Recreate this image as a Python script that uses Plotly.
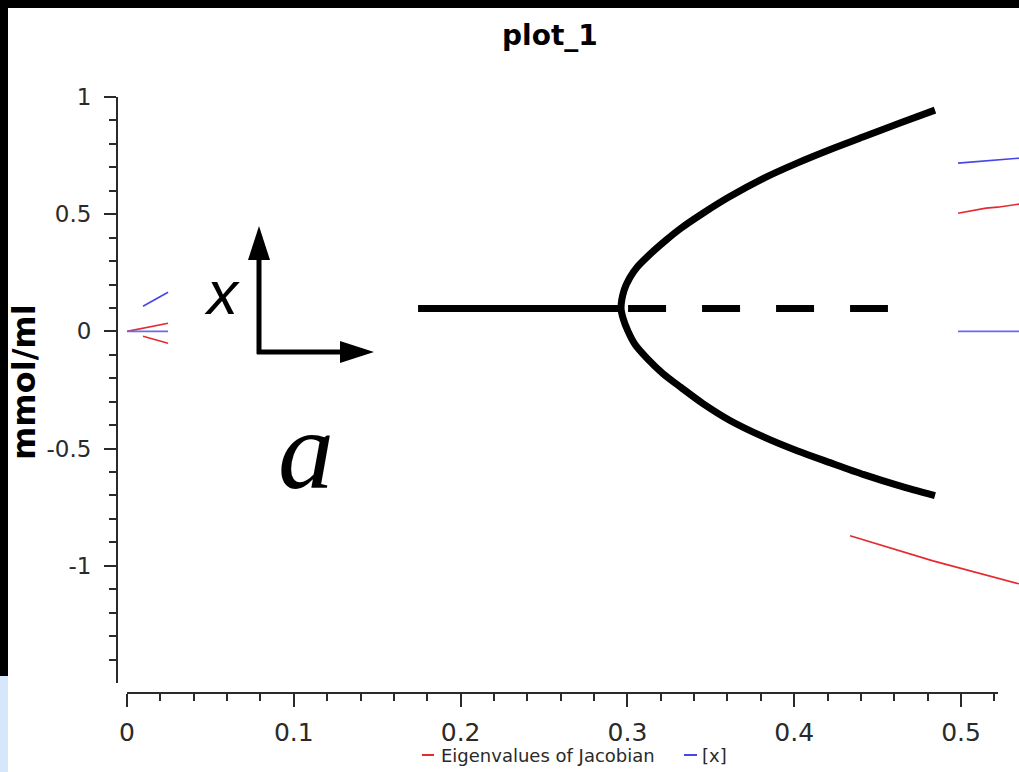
import plotly.graph_objects as go

W, H = 1019, 772

# --- data -----------------------------------------------------------------
# parameter a (x axis) and the computed branches; None separates the
# low-a and high-a pieces of each series
eig_upper_a = [0.0, 0.010, 0.0246, None, 0.4982, 0.5150, 0.5220, 0.5348]
eig_upper_v = [0.0, 0.014, 0.035, None, 0.504, 0.526, 0.530, 0.543]

eig_lower_a = [0.0096, 0.0246, None, 0.4335, 0.4832, 0.5348]
eig_lower_v = [-0.021, -0.051, None, -0.872, -0.979, -1.077]

x_upper_a = [0.0096, 0.0246, None, 0.4982, 0.5348]
x_upper_v = [0.107, 0.167, None, 0.718, 0.739]

x_zero_a = [0.0, 0.0246, None, 0.4982, 0.5348]
x_zero_v = [0.0, 0.0, None, 0.0, 0.0]

# sketched pitchfork: stable branch, unstable branch, and the two new branches
stable_a = [0.1745, 0.2962]
stable_v = [0.098, 0.098]
unstable_a = [0.3004, 0.4562]
unstable_v = [0.098, 0.098]
fork_a = [0.4844, 0.4634, 0.4412, 0.4209, 0.4017, 0.3819, 0.3609, 0.3453,
          0.3321, 0.3231, 0.3141, 0.3058, 0.3016, 0.2980,
          0.2962,
          0.2974, 0.3004, 0.3046, 0.3118, 0.3213, 0.3321, 0.3453, 0.3615,
          0.3813, 0.4017, 0.4215, 0.4418, 0.4628, 0.4844]
fork_v = [0.944, 0.889, 0.829, 0.774, 0.718, 0.654, 0.573, 0.504,
          0.440, 0.389, 0.333, 0.274, 0.231, 0.175,
          0.098,
          0.056, 0.000, -0.056, -0.115, -0.180, -0.239, -0.308, -0.380,
          -0.449, -0.509, -0.560, -0.611, -0.658, -0.701]

y_tick_vals = [-1, -0.5, 0, 0.5, 1]
y_tick_text = ["-1", "-0.5", "0", "0.5", "1"]
x_tick_vals = [0, 0.1, 0.2, 0.3, 0.4, 0.5]
x_tick_text = ["0", "0.1", "0.2", "0.3", "0.4", "0.5"]

RED = "#e42a30"
BLUE = "#4646e6"
INK = "#2a2a2a"


def px(p):
    return p / W


def py(p):
    return 1 - p / H


fig = go.Figure()

for a, v, c in [(eig_upper_a, eig_upper_v, RED), (eig_lower_a, eig_lower_v, RED),
                (x_upper_a, x_upper_v, BLUE), (x_zero_a, x_zero_v, "#6a6af0")]:
    fig.add_trace(go.Scatter(x=a, y=v, mode="lines", line=dict(color=c, width=1.6),
                             showlegend=False, hoverinfo="skip"))

fig.add_trace(go.Scatter(x=stable_a, y=stable_v, mode="lines",
                         line=dict(color="black", width=7), showlegend=False))
fig.add_trace(go.Scatter(x=unstable_a, y=unstable_v, mode="lines",
                         line=dict(color="black", width=7, dash="38px,36px"),
                         showlegend=False))
fig.add_trace(go.Scatter(x=fork_a, y=fork_v, mode="lines",
                         line=dict(color="black", width=7, shape="spline", smoothing=0.8),
                         showlegend=False))

minor_y = [round(-1.4 + 0.1 * i, 2) for i in range(24)]
minor_y = [v for v in minor_y if abs(v * 2 - round(v * 2)) > 1e-9]
minor_x = [round(0.02 * i, 2) for i in range(1, 27)]
minor_x = [v for v in minor_x if abs(v * 10 - round(v * 10)) > 1e-9]

fig.update_layout(
    template="none",
    width=W, height=H,
    margin=dict(l=0, r=0, t=0, b=0, pad=0),
    paper_bgcolor="white", plot_bgcolor="white",
    showlegend=False,
    font=dict(family="DejaVu Sans", color=INK),
    xaxis=dict(
        domain=[px(127), 1.0], range=[0, (W - 127) / 1668],
        anchor="free", position=py(693), automargin=False,
        showgrid=False, zeroline=False, showline=False,
        tickmode="array", tickvals=x_tick_vals, ticktext=x_tick_text,
        ticks="outside", ticklen=13, tickwidth=2, tickcolor=INK,
        tickfont=dict(size=25, color=INK, family="DejaVu Sans"),
        ticklabelstandoff=4,
        minor=dict(tickmode="array", tickvals=minor_x, ticks="outside",
                   ticklen=7, tickwidth=2, tickcolor=INK, showgrid=False),
    ),
    yaxis=dict(
        domain=[py(683), py(97)], range=[-1.5, 1.0],
        anchor="free", position=px(117), automargin=False,
        showgrid=False, zeroline=False, showline=True, linecolor=INK, linewidth=2,
        tickmode="array", tickvals=y_tick_vals, ticktext=y_tick_text,
        ticks="outside", ticklen=12, tickwidth=2, tickcolor=INK,
        tickfont=dict(size=23, color=INK, family="DejaVu Sans"),
        ticklabelstandoff=8,
        minor=dict(tickmode="array", tickvals=minor_y, ticks="outside",
                   ticklen=7, tickwidth=2, tickcolor=INK, showgrid=False),
    ),
)

shapes = [
    # x axis line (stops at the last minor tick)
    dict(type="line", xref="x", yref="paper", x0=0, x1=0.5222,
         y0=py(693), y1=py(693), line=dict(color=INK, width=2)),
    # framing bands
    dict(type="rect", xref="paper", yref="paper", x0=0, x1=1, y0=py(8), y1=1,
         fillcolor="black", line=dict(width=0)),
    dict(type="rect", xref="paper", yref="paper", x0=0, x1=px(8), y0=py(676), y1=1,
         fillcolor="black", line=dict(width=0)),
    dict(type="rect", xref="paper", yref="paper", x0=0, x1=px(8), y0=0, y1=py(676),
         fillcolor="#d6e7fb", line=dict(width=0)),
    # legend swatches
    dict(type="line", xref="paper", yref="paper", x0=px(422), x1=px(434),
         y0=py(755), y1=py(755), line=dict(color=RED, width=2)),
    dict(type="line", xref="paper", yref="paper", x0=px(684), x1=px(697),
         y0=py(755), y1=py(755), line=dict(color=BLUE, width=2)),
    # coordinate-system arrows
    dict(type="line", xref="paper", yref="paper", x0=px(259), x1=px(259),
         y0=py(354), y1=py(256), line=dict(color="black", width=5)),
    dict(type="path", xref="paper", yref="paper",
         path=f"M{px(248)},{py(260)} L{px(270)},{py(260)} L{px(259)},{py(226)} Z",
         fillcolor="black", line=dict(width=0)),
    dict(type="line", xref="paper", yref="paper", x0=px(257), x1=px(343),
         y0=py(352), y1=py(352), line=dict(color="black", width=5)),
    dict(type="path", xref="paper", yref="paper",
         path=f"M{px(340)},{py(341)} L{px(340)},{py(363)} L{px(374)},{py(352)} Z",
         fillcolor="black", line=dict(width=0)),
]
fig.update_layout(shapes=shapes)


def note(text, x, y, size, color=INK, family="DejaVu Sans", xanchor="center", **kw):
    return dict(text=text, x=px(x), y=py(y), xref="paper", yref="paper",
                showarrow=False, font=dict(size=size, color=color, family=family),
                xanchor=xanchor, yanchor="middle", **kw)


annotations = [
    note("<b>plot_1</b>", 550, 36, 28, color="black"),
    note("<b>mmol/ml</b>", 24, 382, 32, color="black", textangle=-90),
    # legend entries
    note("Eigenvalues of Jacobian", 439, 755, 18, xanchor="left"),
    note("[x]", 700, 755, 18, xanchor="left"),
    # sketch labels
    note("<i>x</i>", 222, 292, 62, color="black", family="Liberation Sans"),
    note("<i>a</i>", 306, 450, 112, color="black", family="Liberation Serif"),
]
fig.update_layout(annotations=annotations)

fig.write_html("out.html", post_script="document.body.style.margin='0px';")
